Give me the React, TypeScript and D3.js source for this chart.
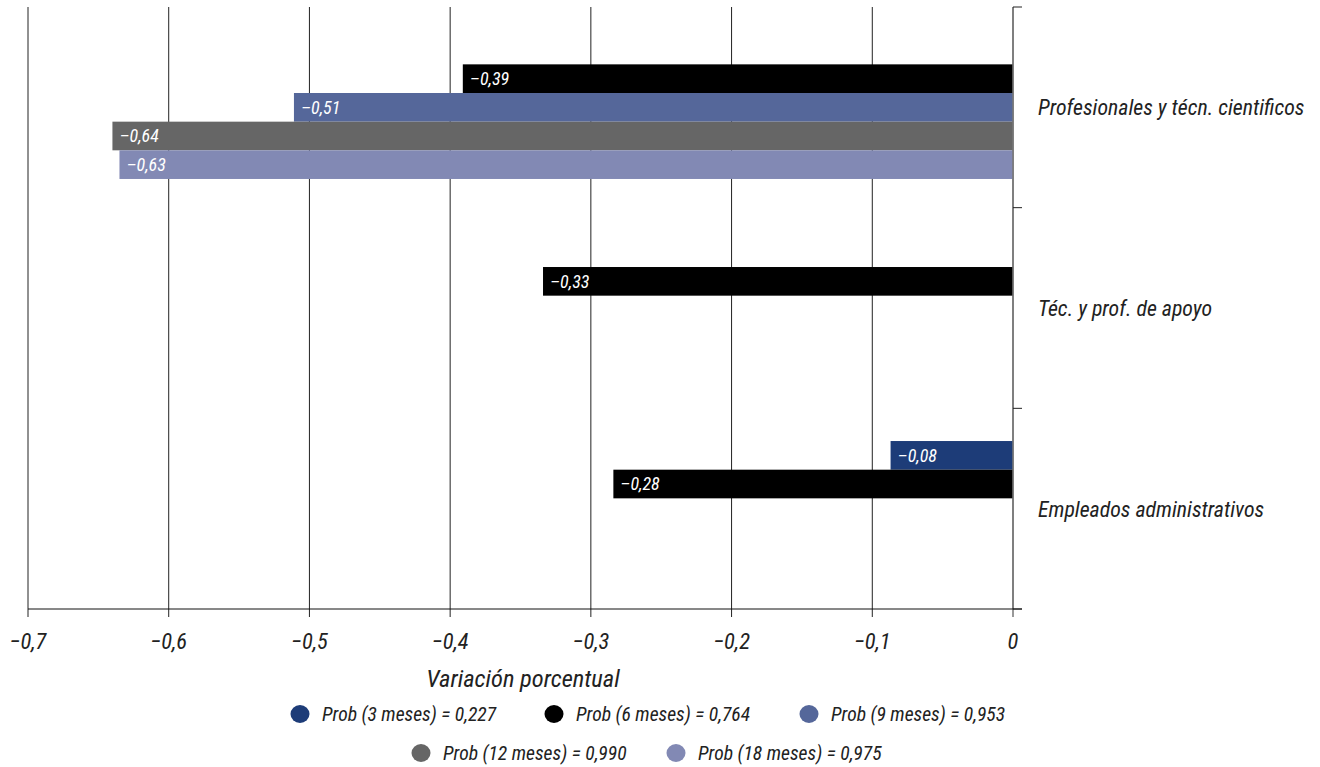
import React from "react";
import * as d3 from "d3";

const categories = [
  "Profesionales y técn. cientificos",
  "Téc. y prof. de apoyo",
  "Empleados administrativos",
];
const seriesKeys = ["3m", "6m", "9m", "12m", "18m"];
const seriesNames = [
  "Prob (3 meses) = 0,227",
  "Prob (6 meses) = 0,764",
  "Prob (9 meses) = 0,953",
  "Prob (12 meses) = 0,990",
  "Prob (18 meses) = 0,975",
];
const seriesColors = ["#1d3c78", "#000000", "#55679a", "#666666", "#8289b4"];

// values[series][category]; null = no bar
const values3m = [null, null, -0.087];
const values6m = [-0.391, -0.334, -0.284];
const values9m = [-0.511, null, null];
const values12m = [-0.64, null, null];
const values18m = [-0.635, null, null];
const labels3m = [null, null, "–0,08"];
const labels6m = ["–0,39", "–0,33", "–0,28"];
const labels9m = ["–0,51", null, null];
const labels12m = ["–0,64", null, null];
const labels18m = ["–0,63", null, null];
const seriesValues = [values3m, values6m, values9m, values12m, values18m];
const seriesLabels = [labels3m, labels6m, labels9m, labels12m, labels18m];

const xTicks = [-0.7, -0.6, -0.5, -0.4, -0.3, -0.2, -0.1, 0];

const FONT = "'Liberation Sans Narrow', 'Roboto Condensed', 'Arial Narrow', 'Liberation Sans', sans-serif";

export default function App() {
  const W = 1320, H = 767;
  const left = 28, right = 1013, top = 7, bottom = 609;
  const x = d3.scaleLinear().domain([-0.7, 0]).range([left, right]);
  const y = d3.scaleBand<string>().domain(categories).range([top, bottom]);
  const bw = y.bandwidth();
  const inner = d3.scaleBand<string>().domain(seriesKeys).range([bw * 0.143, bw * 0.857]);
  const fmt = (t: number) => (t === 0 ? "0" : d3.format(".1f")(t).replace("-", "–").replace(".", ","));

  const legendRows = [
    [{ i: 0, cx: 300 }, { i: 1, cx: 554 }, { i: 2, cx: 809 }],
    [{ i: 3, cx: 421 }, { i: 4, cx: 676 }],
  ];
  const legendY = [714, 753];

  return (
    <svg width={W} height={H} style={{ position: "absolute", left: 0, top: 0, background: "#fff" }} fontFamily={FONT}>
      {/* grid lines */}
      {xTicks.map((t) => (
        <line key={"g" + t} x1={x(t)} x2={x(t)} y1={top} y2={bottom + 8} stroke={t === 0 ? "#777" : "#222"} strokeWidth={t === 0 ? 1.5 : 1} />
      ))}
      {/* bars */}
      {categories.map((c, ci) =>
        seriesKeys.map((k, si) => {
          const v = seriesValues[si][ci];
          if (v === null) return null;
          const y0 = (y(c) as number) + (inner(k) as number) + ci * 2;
          const h = inner.bandwidth();
          const x0 = x(v);
          return (
            <g key={c + k}>
              <rect x={x0} y={y0} width={x(0) - x0} height={h} fill={seriesColors[si]} />
              <text x={x0 + 7} y={y0 + h / 2} dy="0.36em" fill="#fff" fontSize={18} fontStyle="italic">
                {seriesLabels[si][ci]}
              </text>
            </g>
          );
        })
      )}
      {/* right axis */}
      <line x1={right} x2={right} y1={top} y2={bottom} stroke="#777" strokeWidth={1.5} />
      {[...categories.map((c) => y(c) as number), bottom].map((yy, i) => (
        <line key={"rt" + i} x1={right} x2={right + 9} y1={yy} y2={yy} stroke="#222" strokeWidth={1} />
      ))}
      {categories.map((c) => (
        <text key={"cl" + c} x={1038} y={(y(c) as number) + bw / 2} dy="0.36em" fontSize={21.8} fontStyle="italic" fill="#222">
          {c}
        </text>
      ))}
      {/* bottom axis */}
      <line x1={left} x2={right + 9} y1={bottom} y2={bottom} stroke="#111" strokeWidth={1} />
      {xTicks.map((t) => (
        <text key={"tl" + t} x={x(t)} y={641} dy="0.36em" textAnchor="middle" fontSize={22.5} fontStyle="italic" fill="#222">
          {fmt(t)}
        </text>
      ))}
      <text x={523} y={678} dy="0.36em" textAnchor="middle" fontSize={24.5} fontStyle="italic" fill="#222">
        Variación porcentual
      </text>
      {/* legend */}
      {legendRows.map((row, ri) =>
        row.map(({ i, cx }) => (
          <g key={"lg" + i}>
            <ellipse cx={cx} cy={legendY[ri]} rx={9.5} ry={9} fill={seriesColors[i]} />
            <text x={cx + 22} y={legendY[ri]} dy="0.36em" fontSize={19.6} fontStyle="italic" fill="#222">
              {seriesNames[i]}
            </text>
          </g>
        ))
      )}
    </svg>
  );
}
